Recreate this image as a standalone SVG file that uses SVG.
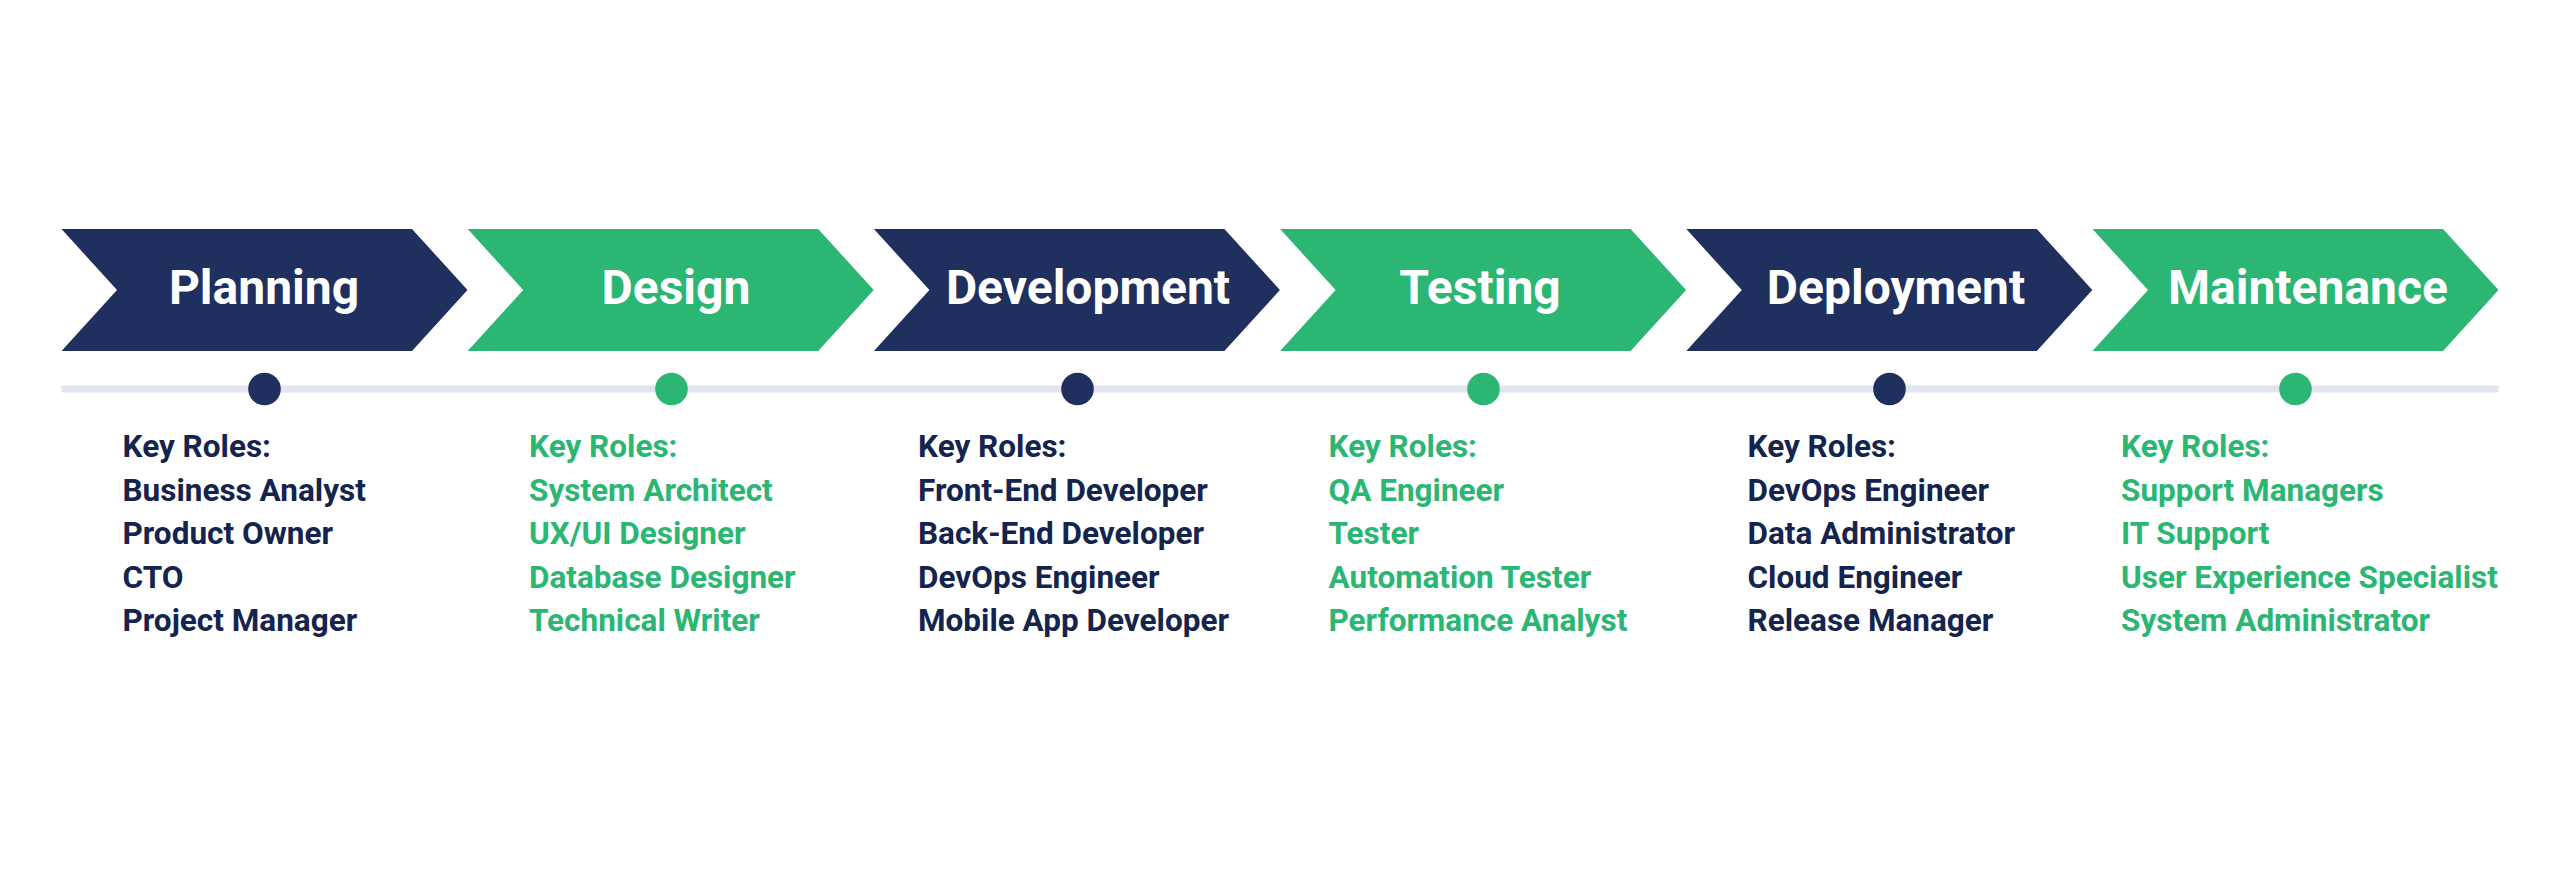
<svg xmlns="http://www.w3.org/2000/svg" width="2560" height="870" viewBox="0 0 2560 870">
<style>
.navy{fill:#1f305e}
.green{fill:#2bb673}
.title{font-family:Roboto,"Liberation Sans",sans-serif;font-weight:700;font-size:48px;fill:#ffffff;text-anchor:middle}
.body{font-family:Roboto,"Liberation Sans",sans-serif;font-weight:700;font-size:31.5px}
.tn{fill:#14244c}
.tg{fill:#2bb673}
</style>
<defs>
<path id="chev" d="M0,229 L350.5,229 L406,290 L350.5,351 L0,351 L55.5,290 Z"/>
</defs>
<rect width="2560" height="870" fill="#ffffff"/>
<g id="connectors">
<rect x="61.5" y="385.5" width="2437" height="7" fill="#e1e5f2"/>
</g>
<g id="planning">
<use href="#chev" x="61.5" class="navy"/>
<text x="264" y="304" class="title">Planning</text>
<circle cx="264.5" cy="389" r="16.3" class="navy"/>
<text class="body tn"><tspan x="122.5" y="457">Key Roles:</tspan><tspan x="122.5" y="500.5">Business Analyst</tspan><tspan x="122.5" y="544">Product Owner</tspan><tspan x="122.5" y="587.5">CTO</tspan><tspan x="122.5" y="631">Project Manager</tspan></text>
</g>
<g id="design">
<use href="#chev" x="467.7" class="green"/>
<text x="676" y="304" class="title">Design</text>
<circle cx="671.5" cy="389" r="16.3" class="green"/>
<text class="body tg"><tspan x="529" y="457">Key Roles:</tspan><tspan x="529" y="500.5">System Architect</tspan><tspan x="529" y="544">UX/UI Designer</tspan><tspan x="529" y="587.5">Database Designer</tspan><tspan x="529" y="631">Technical Writer</tspan></text>
</g>
<g id="development">
<use href="#chev" x="873.9" class="navy"/>
<text x="1088" y="304" class="title">Development</text>
<circle cx="1077.5" cy="389" r="16.3" class="navy"/>
<text class="body tn"><tspan x="918" y="457">Key Roles:</tspan><tspan x="918" y="500.5">Front-End Developer</tspan><tspan x="918" y="544">Back-End Developer</tspan><tspan x="918" y="587.5">DevOps Engineer</tspan><tspan x="918" y="631">Mobile App Developer</tspan></text>
</g>
<g id="testing">
<use href="#chev" x="1280.1" class="green"/>
<text x="1480" y="304" class="title">Testing</text>
<circle cx="1483.5" cy="389" r="16.3" class="green"/>
<text class="body tg"><tspan x="1328.5" y="457">Key Roles:</tspan><tspan x="1328.5" y="500.5">QA Engineer</tspan><tspan x="1328.5" y="544">Tester</tspan><tspan x="1328.5" y="587.5">Automation Tester</tspan><tspan x="1328.5" y="631">Performance Analyst</tspan></text>
</g>
<g id="deployment">
<use href="#chev" x="1686.3" class="navy"/>
<text x="1896" y="304" class="title">Deployment</text>
<circle cx="1889.5" cy="389" r="16.3" class="navy"/>
<text class="body tn"><tspan x="1747.5" y="457">Key Roles:</tspan><tspan x="1747.5" y="500.5">DevOps Engineer</tspan><tspan x="1747.5" y="544">Data Administrator</tspan><tspan x="1747.5" y="587.5">Cloud Engineer</tspan><tspan x="1747.5" y="631">Release Manager</tspan></text>
</g>
<g id="maintenance">
<use href="#chev" x="2092.5" class="green"/>
<text x="2308" y="304" class="title">Maintenance</text>
<circle cx="2295.5" cy="389" r="16.3" class="green"/>
<text class="body tg"><tspan x="2121" y="457">Key Roles:</tspan><tspan x="2121" y="500.5">Support Managers</tspan><tspan x="2121" y="544">IT Support</tspan><tspan x="2121" y="587.5">User Experience Specialist</tspan><tspan x="2121" y="631">System Administrator</tspan></text>
</g>
</svg>
